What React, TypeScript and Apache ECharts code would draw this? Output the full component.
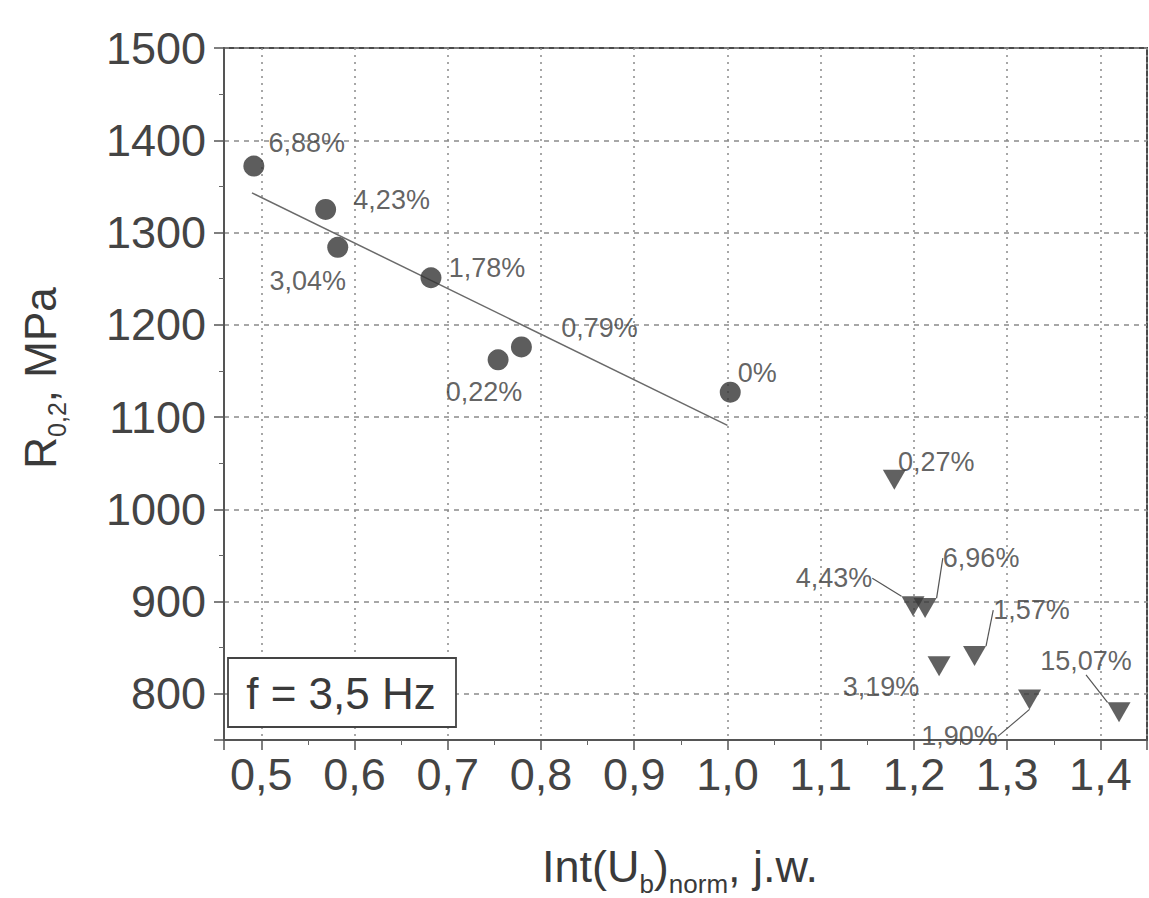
import React, { useEffect, useRef } from "react";
import * as echarts from "echarts";

// ---- data ----
const circleX = [0.492, 0.569, 0.582, 0.682, 0.754, 0.779, 1.003];
const circleY = [1372, 1325, 1284, 1251, 1162, 1176, 1127];
const circleLabels = ["6,88%", "4,23%", "3,04%", "1,78%", "0,22%", "0,79%", "0%"];

const triX = [1.179, 1.199, 1.212, 1.227, 1.265, 1.324, 1.42];
const triY = [1032, 895, 893, 830, 841, 794, 780];
const triLabels = ["0,27%", "4,43%", "6,96%", "3,19%", "1,57%", "1,90%", "15,07%"];

const trendX = [0.49, 1.0];
const trendY = [1343, 1091];

const xTickValues = [0.5, 0.6, 0.7, 0.8, 0.9, 1.0, 1.1, 1.2, 1.3, 1.4];
const xTickLabels = ["0,5", "0,6", "0,7", "0,8", "0,9", "1,0", "1,1", "1,2", "1,3", "1,4"];
const yTickValues = [800, 900, 1000, 1100, 1200, 1300, 1400, 1500];
const yTickLabels = ["800", "900", "1000", "1100", "1200", "1300", "1400", "1500"];

// ---- label layout (pixel offsets of label centres from marker centres) ----
const circleLabelOffsets = [[53, -23], [66, -9], [-30, 34], [56, -10], [-14, 32], [78, -19], [27, -19]];
const triLabelOffsets = [[42, -18], [-79, -28], [56, -50], [-58, 21], [57, -46], [-70, 37], [-33, -51]];
const triLeader = [false, true, true, false, true, true, true];

const FONT = "'Liberation Sans', Arial, sans-serif";
const TEXT = "#3a3a3a";

function measure(text: string, size: number) {
  const ctx = document.createElement("canvas").getContext("2d")!;
  ctx.font = `${size}px "Liberation Sans"`;
  return ctx.measureText(text).width;
}

function buildTitle(parts: { t: string; s: number; sub?: boolean }[], subShift: number) {
  let x = 0;
  const children: any[] = [];
  parts.forEach((p) => {
    children.push({
      type: "text",
      x,
      y: p.sub ? subShift : 0,
      style: {
        text: p.t,
        fontSize: p.s,
        fontFamily: FONT,
        fill: TEXT,
        align: "left",
        textAlign: "left",
        verticalAlign: "middle",
        textVerticalAlign: "middle",
      },
    });
    x += measure(p.t, p.s);
  });
  return { children, width: x };
}

export default function App() {
  const ref = useRef<HTMLDivElement>(null);
  useEffect(() => {
    const chart = echarts.init(ref.current!, null, { renderer: "svg" });

    const xt = buildTitle(
      [
        { t: "Int(U", s: 45 },
        { t: "b", s: 26, sub: true },
        { t: ")", s: 45 },
        { t: "norm", s: 26, sub: true },
        { t: ", j.w.", s: 45 },
      ],
      18
    );
    const yt = buildTitle(
      [
        { t: "R", s: 44 },
        { t: "0,2", s: 25, sub: true },
        { t: ", MPa", s: 44 },
      ],
      17
    );

    const labelStyle = {
      show: true,
      position: "inside" as const,
      fontSize: 27,
      fontFamily: FONT,
      color: TEXT,
    };

    const option: any = {
      animation: false,
      backgroundColor: "#ffffff",
      grid: {
        left: 224,
        right: 2,
        top: 48,
        bottom: 158,
        show: true,
        borderColor: "#4a4a4a",
        borderWidth: 2,
        backgroundColor: "transparent",
      },
      xAxis: {
        type: "value",
        min: 0.46,
        max: 1.45,
        splitNumber: 10,
        axisLine: { show: true, lineStyle: { color: "#555", width: 2 } },
        axisTick: { show: true, length: 10, lineStyle: { color: "#555", width: 1.5 } },
        minorTick: { show: true, splitNumber: 2, length: 5, lineStyle: { color: "#666" } },
        axisLabel: {
          showMinLabel: false,
          showMaxLabel: false,
          margin: 12,
          fontSize: 45,
          fontFamily: FONT,
          color: "#444",
          formatter: (v: number) => {
            const i = xTickValues.findIndex((t) => Math.abs(t - v) < 1e-6);
            return i >= 0 ? xTickLabels[i] : "";
          },
        },
        splitLine: { show: true, lineStyle: { color: "#8a8a8a", type: [2, 5], width: 1.5 } },
      },
      yAxis: {
        type: "value",
        min: 750,
        max: 1500,
        splitNumber: 8,
        axisLine: { show: true, lineStyle: { color: "#555", width: 2 } },
        axisTick: { show: true, length: 10, lineStyle: { color: "#555", width: 1.5 } },
        minorTick: { show: true, splitNumber: 2, length: 5, lineStyle: { color: "#666" } },
        axisLabel: {
          showMinLabel: false,
          margin: 18,
          fontSize: 45,
          fontFamily: FONT,
          color: "#444",
          formatter: (v: number) => {
            const i = yTickValues.indexOf(Math.round(v));
            return i >= 0 ? yTickLabels[i] : "";
          },
        },
        splitLine: { show: true, lineStyle: { color: "#8a8a8a", type: [5, 5], width: 1.5 } },
      },
      series: [
        {
          type: "line",
          data: trendX.map((x, i) => [x, trendY[i]]),
          showSymbol: false,
          symbol: "none",
          lineStyle: { color: "#6a6a6a", width: 1.5 },
          z: 2,
        },
        {
          type: "scatter",
          symbol: "circle",
          symbolSize: 21,
          itemStyle: { color: "#353535" },
          label: { ...labelStyle, formatter: (p: any) => circleLabels[p.dataIndex] },
          labelLayout: (p: any) => ({
            dx: circleLabelOffsets[p.dataIndex][0],
            dy: circleLabelOffsets[p.dataIndex][1],
          }),
          data: circleX.map((x, i) => [x, circleY[i]]),
          z: 5,
        },
        {
          type: "scatter",
          symbol: "triangle",
          symbolRotate: 180,
          symbolSize: [23, 20],
          itemStyle: { color: "#3a3a3a" },
          label: { ...labelStyle, formatter: (p: any) => triLabels[p.dataIndex] },
          labelLine: { show: true, lineStyle: { color: "#555", width: 1.2 } },
          labelLayout: (p: any) => ({
            dx: triLabelOffsets[p.dataIndex][0],
            dy: triLabelOffsets[p.dataIndex][1],
          }),
          data: triX.map((x, i) => ({
            value: [x, triY[i]],
            labelLine: { show: triLeader[i] },
          })),
          z: 5,
        },
      ],
      graphic: [
        {
          type: "rect",
          shape: { x: 228, y: 658, width: 228, height: 69 },
          style: { fill: "#fff", stroke: "#444", lineWidth: 1.8 },
          z: 10,
        },
        {
          type: "text",
          x: 341,
          y: 693,
          z: 11,
          style: {
            text: "f = 3,5 Hz",
            fontSize: 44,
            fontFamily: FONT,
            fill: TEXT,
            align: "center",
            textAlign: "center",
            verticalAlign: "middle",
            textVerticalAlign: "middle",
          },
        },
        {
          type: "group",
          x: 680 - xt.width / 2,
          y: 866,
          children: xt.children,
        },
        {
          type: "group",
          x: 40,
          y: 378 + yt.width / 2,
          rotation: Math.PI / 2,
          children: yt.children,
        },
      ],
    };
    chart.setOption(option);
    return () => chart.dispose();
  }, []);
  return (
    <div
      ref={ref}
      style={{ position: "fixed", left: 0, top: 0, width: 1149, height: 898, background: "#fff" }}
    />
  );
}
